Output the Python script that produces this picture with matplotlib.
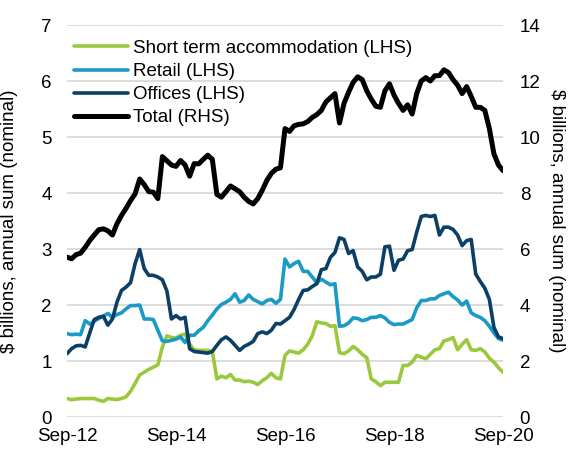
import matplotlib
matplotlib.use("Agg")
import matplotlib.pyplot as plt
import numpy as np

plt.rcParams['font.family'] = ['Liberation Sans', 'DejaVu Sans']

# Monthly data, Sep-12 .. Sep-20 (97 months)
short_term = [0.33, 0.31, 0.32, 0.33, 0.33, 0.33, 0.33, 0.30, 0.28, 0.33,
              0.32, 0.31, 0.33, 0.36, 0.46, 0.60, 0.75, 0.80, 0.85, 0.89,
              0.93, 1.25, 1.45, 1.42, 1.41, 1.46, 1.48, 1.30, 1.20, 1.19,
              1.19, 1.19, 1.17, 0.68, 0.73, 0.70, 0.76, 0.66, 0.66, 0.63,
              0.64, 0.62, 0.58, 0.65, 0.70, 0.78, 0.70, 0.68, 1.10, 1.18,
              1.16, 1.14, 1.20, 1.30, 1.45, 1.70, 1.68, 1.67, 1.62, 1.63,
              1.15, 1.13, 1.18, 1.26, 1.20, 1.12, 1.06, 0.68, 0.63, 0.56,
              0.62, 0.62, 0.62, 0.62, 0.92, 0.92, 0.98, 1.10, 1.07, 1.04,
              1.12, 1.20, 1.22, 1.36, 1.38, 1.42, 1.20, 1.30, 1.38, 1.20,
              1.19, 1.22, 1.16, 1.05, 0.98, 0.88, 0.80]

retail = [1.49, 1.47, 1.48, 1.47, 1.72, 1.66, 1.71, 1.76, 1.80, 1.85,
          1.78, 1.83, 1.86, 1.93, 1.99, 1.99, 2.00, 1.75, 1.75, 1.74,
          1.55, 1.36, 1.35, 1.37, 1.39, 1.43, 1.33, 1.46, 1.46, 1.54,
          1.60, 1.72, 1.82, 1.93, 2.01, 2.05, 2.10, 2.20, 2.05, 2.08,
          2.18, 2.10, 2.06, 2.02, 2.08, 2.10, 2.03, 2.10, 2.82, 2.68,
          2.74, 2.78, 2.60, 2.60, 2.50, 2.40, 2.46, 2.41, 2.36, 2.38,
          1.62, 1.63, 1.68, 1.77, 1.76, 1.72, 1.74, 1.78, 1.78, 1.81,
          1.77, 1.69, 1.65, 1.66, 1.66, 1.70, 1.74, 1.95, 2.08, 2.08,
          2.11, 2.11, 2.17, 2.20, 2.23, 2.15, 2.09, 2.00, 2.07, 1.86,
          1.81, 1.78, 1.72, 1.62, 1.50, 1.40, 1.37]

offices = [1.13, 1.22, 1.27, 1.28, 1.25, 1.50, 1.74, 1.78, 1.80, 1.64,
           1.75, 2.05, 2.26, 2.32, 2.40, 2.74, 2.99, 2.65, 2.53, 2.53,
           2.50, 2.45, 2.25, 1.75, 1.81, 1.75, 1.78, 1.22, 1.17, 1.16,
           1.15, 1.14, 1.17, 1.28, 1.38, 1.43, 1.37, 1.28, 1.19, 1.26,
           1.30, 1.35, 1.49, 1.52, 1.49, 1.55, 1.67, 1.66, 1.72, 1.78,
           1.92, 2.10, 2.26, 2.27, 2.33, 2.38, 2.63, 2.65, 2.85, 2.94,
           3.20, 3.17, 2.92, 2.97, 2.68, 2.60, 2.45, 2.50, 2.50, 2.55,
           3.04, 3.05, 2.62, 2.80, 2.82, 2.97, 2.99, 3.30, 3.58, 3.60,
           3.58, 3.60, 3.25, 3.39, 3.39, 3.35, 3.25, 3.06, 3.15, 3.17,
           2.55, 2.42, 2.30, 2.10, 1.60, 1.43, 1.40]

total = [5.71, 5.65, 5.80, 5.85, 6.06, 6.30, 6.50, 6.69, 6.72, 6.65,
         6.50, 6.90, 7.20, 7.45, 7.73, 7.97, 8.50, 8.30, 8.05, 8.03,
         7.80, 9.30, 9.15, 9.00, 8.95, 9.16, 9.00, 8.60, 9.05, 9.04,
         9.20, 9.35, 9.20, 7.95, 7.85, 8.05, 8.25, 8.15, 8.05, 7.85,
         7.70, 7.61, 7.80, 8.10, 8.45, 8.70, 8.85, 8.90, 10.30, 10.20,
         10.40, 10.45, 10.47, 10.55, 10.70, 10.80, 10.95, 11.25, 11.40, 11.55,
         10.50, 11.20, 11.60, 11.95, 12.15, 12.05, 11.65, 11.35, 11.10, 11.06,
         11.65, 11.90, 11.50, 11.20, 10.95, 11.15, 10.82, 11.55, 12.00, 12.12,
         12.00, 12.19, 12.19, 12.40, 12.30, 12.05, 11.85, 11.55, 11.80, 11.45,
         11.06, 11.06, 10.95, 10.30, 9.40, 9.00, 8.80]

x_tick_labels = ["Sep-12", "Sep-14", "Sep-16", "Sep-18", "Sep-20"]
x_tick_pos = [0, 24, 48, 72, 96]

labels = ["Short term accommodation (LHS)", "Retail (LHS)", "Offices (LHS)", "Total (RHS)"]
colors = ["#9BC83C", "#1A9AC6", "#0B3F66", "#000000"]

x = np.arange(len(total))

fig = plt.figure(figsize=(5.75, 4.5), dpi=100)
ax = fig.add_axes([67/575, 1 - 417/450, 436/575, 392/450])
ax2 = ax.twinx()

fs = 13.5
l1, = ax.plot(x, short_term, color=colors[0], lw=2.6, label=labels[0], solid_capstyle='round')
l2, = ax.plot(x, retail, color=colors[1], lw=2.6, label=labels[1], solid_capstyle='round')
l3, = ax.plot(x, offices, color=colors[2], lw=2.6, label=labels[2], solid_capstyle='round')
l4, = ax2.plot(x, total, color=colors[3], lw=3.6, label=labels[3], solid_capstyle='round')

ax.set_xlim(0, 96)
ax.set_ylim(0, 7)
ax2.set_ylim(0, 14)
ax.set_yticks(np.arange(0, 8, 1))
ax2.set_yticks(np.arange(0, 15, 2))
ax.set_xticks(x_tick_pos)
ax.set_xticklabels(x_tick_labels)

ax.grid(axis='y', color='#D9D9D9', lw=1.3)
ax.set_axisbelow(True)
for a in (ax, ax2):
    for s in a.spines.values():
        s.set_visible(False)
    a.tick_params(length=0, labelsize=fs, colors='black')
ax.tick_params(axis='y', pad=11)
ax2.tick_params(axis='y', pad=12)
ax.tick_params(axis='x', pad=8)

ax.set_ylabel("$ billions, annual sum (nominal)", fontsize=fs)
ax.yaxis.set_label_coords(-0.112, 0.5)
ax2.set_ylabel("$ billions, annual sum (nominal)", fontsize=fs, rotation=270)
ax2.yaxis.set_label_coords(1.142, 0.5)

leg = ax2.legend(handles=[l1, l2, l3, l4], loc='upper left', bbox_to_anchor=(0.015, 0.962),
                 frameon=False, fontsize=fs, handlelength=2.9, handletextpad=0.25,
                 labelspacing=0.32, borderpad=0, borderaxespad=0)

fig.savefig("out.png", dpi=100)
